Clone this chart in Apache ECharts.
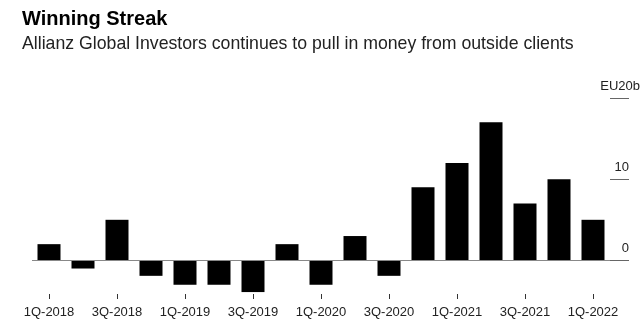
<!DOCTYPE html>
<html>
<head>
<meta charset="utf-8">
<script src="https://cdn.jsdelivr.net/npm/echarts@6/dist/echarts.min.js"></script>
<style>html,body{margin:0;padding:0;background:#fff;}#c{width:644px;height:329px;}</style>
</head>
<body>
<div id="c"></div>
<script>
const categories = ['1Q-2018','2Q-2018','3Q-2018','4Q-2018','1Q-2019','2Q-2019','3Q-2019','4Q-2019','1Q-2020','2Q-2020','3Q-2020','4Q-2020','1Q-2021','2Q-2021','3Q-2021','4Q-2021','1Q-2022'];
const netFlows = [2.0, -1.0, 5.0, -1.9, -3.0, -3.0, -3.9, 2.0, -3.0, 3.0, -1.9, 9.0, 12.0, 17.0, 7.0, 10.0, 5.0];
const yTicks = [0, 10, 20];
const titleText = 'Winning Streak';
const subtitleText = 'Allianz Global Investors continues to pull in money from outside clients';

const chart = echarts.init(document.getElementById('c'), null, {renderer: 'canvas'});
const font = 'Liberation Sans, Arial, Helvetica, sans-serif';
chart.setOption({
  animation: false,
  backgroundColor: '#fff',
  title: [
    {text: titleText, left: 17, top: 4, textStyle: {fontFamily: font, fontSize: 20, fontWeight: 'bold', color: '#000'}},
    {text: subtitleText, left: 17, top: 30, textStyle: {fontFamily: font, fontSize: 17.7, fontWeight: 'normal', color: '#222'}}
  ],
  grid: {left: 32, right: 34, top: 98, bottom: 28},
  xAxis: {
    type: 'category',
    data: categories,
    offset: -2,
    axisLine: {show: false, onZero: false},
    axisTick: {show: true, inside: true, length: 5, interval: 1, alignWithLabel: true, lineStyle: {color: '#333'}},
    axisLabel: {interval: 1, margin: 7, fontFamily: font, fontSize: 13, color: '#222'}
  },
  yAxis: {
    type: 'value',
    position: 'right',
    min: -5,
    max: 20,
    splitLine: {show: false},
    axisLine: {show: false},
    axisTick: {show: true, customValues: yTicks, length: 19, lineStyle: {color: '#666'}},
    axisLabel: {
      customValues: yTicks,
      margin: 19,
      align: 'right',
      verticalAlign: 'bottom',
      fontFamily: font, fontSize: 13, color: '#222',
      formatter: v => v === 20 ? '{u|EU20b}' : '{n|' + v + '}',
      rich: {
        n: {fontFamily: font, fontSize: 13, color: '#222', padding: [0, 0, 5, 0]},
        u: {fontFamily: font, fontSize: 13, color: '#222', padding: [0, -11, 5, 0]}
      }
    }
  },
  series: [{
    type: 'bar',
    data: netFlows,
    barWidth: 23,
    itemStyle: {color: '#000'},
    markLine: {
      silent: true,
      symbol: 'none',
      label: {show: false},
      lineStyle: {color: '#888', width: 1, type: 'solid'},
      data: [{yAxis: 0}]
    }
  }]
});
</script>
</body>
</html>
